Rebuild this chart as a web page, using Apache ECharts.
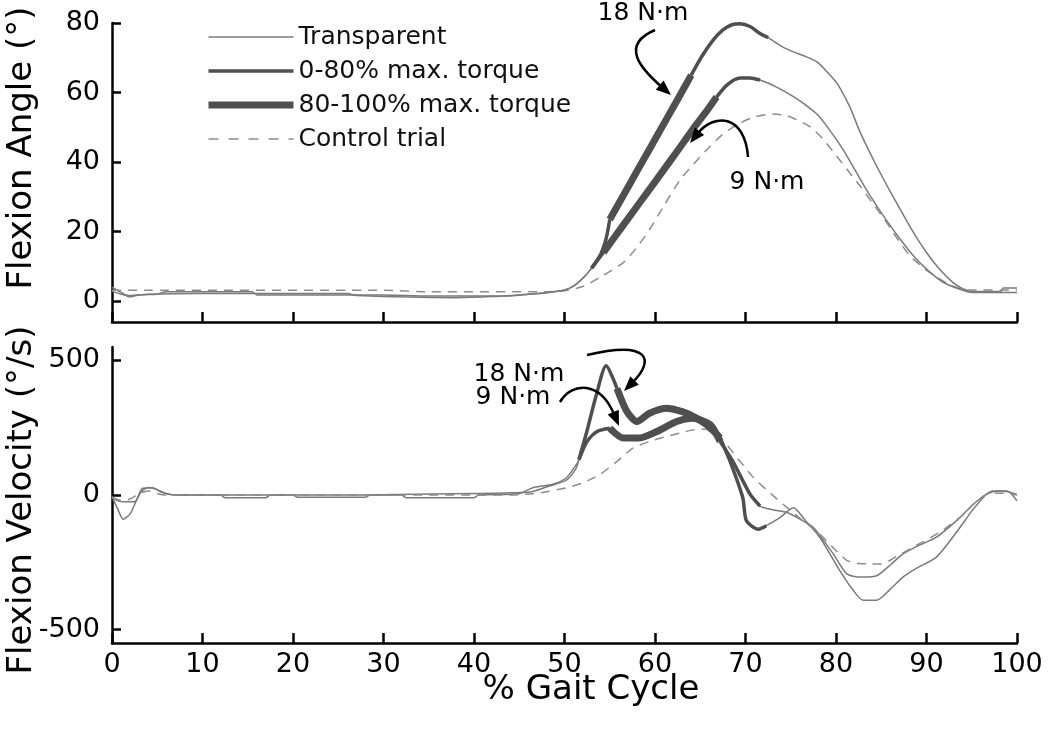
<!DOCTYPE html>
<html><head><meta charset="utf-8">
<script src="https://cdn.jsdelivr.net/npm/echarts@6/dist/echarts.min.js"></script>
<style>html,body{margin:0;padding:0;background:#fff}#c{width:1050px;height:738px}</style>
</head><body><div id="c"></div><script>
// ---------- data (x = % gait cycle) ----------
const angle18 = [[0,4.0],[1,2.5],[2,1.2],[3,1.8],[5,2.0],[6,2.7],[15.5,2.7],[16,1.8],[30,1.8],[35,1.5],[44,1.5],[46,2.0],[48,2.4],[50,3.2],[51,4.3],[52,6.5],[53,9.5],[54,13.5],[54.6,18],[55,23.5],[56,28.1],[57,32.7],[58.3,38.7],[59.5,44.2],[61.3,52.5],[62.5,58],[64,65],[65.2,70.5],[66.4,75],[67.5,78],[68.5,79.5],[69.4,79.8],[70.5,79],[71.6,77],[72.5,75.8],[74,73.3],[75.3,71.7],[76.5,70.5],[77.9,68.8],[79,66],[80.1,62.7],[81.5,56],[82.7,48.4],[84.5,38.8],[86,31.5],[87.1,26.4],[88.5,20],[90,14],[91.5,9],[92.9,5.4],[94,3.6],[95.2,2.8],[98.2,2.8],[98.5,3.8],[100,3.8]];
const angle9 = [[0,2.8],[1,2.0],[2,1.6],[4,2.0],[10,2.2],[26,2.2],[27,1.6],[38,1.0],[42,1.3],[46,2.0],[48,2.4],[50,3.2],[51,4.3],[52,6.5],[53,9.5],[54.3,14],[55.5,18.3],[56.9,23.3],[58.3,28.3],[60,34.3],[62,41.5],[63.3,46.2],[64.6,50.9],[65.8,55],[66.8,58.7],[68,62.3],[69.4,64.2],[70.5,64.2],[71.6,63.6],[73.5,61.5],[75.3,58.8],[76.6,56.5],[77.9,53.8],[79.3,49.2],[80.8,43.5],[82.3,36.8],[83.8,30.2],[85.5,23.5],[87.1,17.8],[88.5,13.2],[90,9.2],[91.8,5.5],[93.7,3.4],[95,2.5],[100,2.5]];
const angleControl = [[0,3.1],[30,3.1],[35,2.7],[48,2.7],[50,3.0],[52.1,4.3],[54,7],[56.5,11.1],[58,15.5],[59.4,20.6],[61,27.5],[62.8,35],[64.3,39.5],[65.7,43.5],[67.5,48],[69.4,51.2],[71,53],[73,53.8],[74.5,53.4],[75.8,52],[77.1,50.2],[78.6,46.5],[80.1,41.6],[81.4,37.3],[82.7,33],[84.2,27.6],[85.6,22.6],[86.9,17.5],[88.2,13],[89.8,9.3],[91.5,6.3],[93,4.2],[94.5,3.2],[100,3.2]];
const vel18 = [[0,-5],[0.6,-50],[1.25,-90],[2,-70],[2.7,-20],[3.4,25],[4.5,27],[5.5,10],[7,0],[12,0],[12.5,-10],[17,-10],[17.5,0],[32,0],[32.5,-10],[40,-10],[40.5,0],[45,5],[46.5,27],[48.7,40],[50.2,64],[51.3,113],[51.6,132],[52.5,240],[53.5,370],[54.6,480],[55.8,396],[56.9,310],[58,273],[59.4,304],[61.3,322],[63.5,304],[65.7,261],[67.2,212],[68.3,125],[69.7,-10],[70.1,-96],[71.4,-127],[72.3,-114],[73.8,-84],[75.3,-47],[76.5,-90],[78.2,-157],[80.4,-280],[81.9,-354],[83,-391],[84.5,-391],[86,-350],[87.4,-305],[89,-270],[91.1,-231],[93.7,-121],[95,-60],[96.6,2],[97.4,15],[98.9,15],[100,-22]];
const vel9 = [[0,-5],[0.5,-20],[1.25,-25],[2.5,-25],[3.2,10],[4,28],[5,20],[6,5],[7,0],[20,0],[20.5,-8],[28,-8],[28.5,0],[46,10],[48,30],[50.2,55],[51.3,100],[51.6,132],[52.5,200],[53.6,236],[55,248],[56.5,212],[58.3,212],[60.2,236],[62.4,273],[64.2,285],[66.1,261],[67.2,199],[68.6,125],[70.5,3],[71.6,-41],[73,-55],[74.6,-65],[76,-90],[77.5,-121],[79.7,-219],[81.2,-293],[83,-305],[84.5,-300],[86,-260],[87.4,-219],[89,-190],[91.1,-157],[93.7,-84],[95,-40],[96.6,2],[98,15],[99,12],[100,2]];
const velControl = [[0,-10],[1,-20],[2,-15],[3,5],[4,15],[5,5],[6,0],[44,0],[46.5,5],[48,12],[50.2,27],[52,45],[53.9,76],[55.8,125],[57.6,175],[59.5,200],[61.3,218],[63,232],[64.2,242],[65.5,245],[66.5,225],[67.9,187],[69.4,125],[70.9,64],[72.8,5],[74.6,-47],[76.4,-97],[78.2,-145],[79.8,-200],[81.2,-243],[82.5,-255],[83.8,-256],[85,-256],[86.7,-228],[88.5,-194],[90.4,-160],[92.2,-121],[93.8,-80],[95.2,-34],[97.1,8],[99,5],[100,0]];

// torque phases (x ranges): [medium start, thick start, thick end, medium end]
const phaseAngle18 = [53, 55, 64, 72.5];
const phaseAngle9 = [53, 54.3, 66.8, 71.6];
const phaseVel18 = [51.6, 55.8, 67.2, 72.3];
const phaseVel9 = [51.6, 55, 67.2, 71.6];

const legendNames = ['Transparent', '0-80% max. torque', '80-100% max. torque', 'Control trial'];
const angleTicks = [0, 20, 40, 60, 80];
const velTicks = [-500, 0, 500];
const xTitle = '% Gait Cycle';
const yTitleTop = 'Flexion Angle (°)';
const yTitleBottom = 'Flexion Velocity (°/s)';

// annotations: [grid, label, textPos, start, ctrl1, ctrl2, tip]  (data units)
const annotations = [
  [0, '18 N·m', [58.67, 82.6], [60.0, 77.98], [56.13, 73.7], [58.34, 67.05], [61.77, 59.3]],
  [0, '9 N·m', [72.38, 34.0], [70.28, 41.45], [69.94, 53.5], [66.63, 54.4], [63.87, 45.5]],
  [1, '18 N·m', [44.97, 449.6], [52.49, 520], [59.45, 576], [60.0, 501.7], [56.57, 386.5]],
  [1, '9 N·m', [44.31, 360.5], [49.5, 345.6], [50.83, 420], [53.92, 427], [56.02, 256.4]]
];

// ---------- chart ----------
const FONT = 'DejaVu Sans';
const THIN = '#7a7a7a', DARK = '#4f4f4f', CTRL = '#8c8c8c';
const W_THIN = 1.5, W_MED = 3.5, W_THICK = 7, DASH = [9, 7];
const seg = (c, a, b) => c.filter(p => p[0] >= a && p[0] <= b);

function line(name, data, grid, width, color, dashed) {
  return {
    type: 'line', name, data, xAxisIndex: grid, yAxisIndex: grid,
    symbol: 'none', smooth: 0.25, animation: false, silent: true,
    lineStyle: { width, color, type: dashed ? DASH : 'solid', cap: 'butt', join: 'round' },
    itemStyle: { color }, z: width > 5 ? 4 : (width > 2 ? 5 : 3)
  };
}
function torqueSeries(curve, ph, grid) {
  return [
    line(legendNames[1], seg(curve, ph[0], ph[1]), grid, W_MED, DARK),
    line(legendNames[2], seg(curve, ph[1], ph[2]), grid, W_THICK, DARK),
    line(legendNames[1], seg(curve, ph[2], ph[3]), grid, W_MED, DARK)
  ];
}

const series = [
  line(legendNames[0], angle18, 0, W_THIN, THIN),
  ...torqueSeries(angle18, phaseAngle18, 0),
  line(legendNames[3], angleControl, 0, W_THIN, CTRL, true),
  line(legendNames[0], angle9, 0, W_THIN, THIN),
  ...torqueSeries(angle9, phaseAngle9, 0),
  line(legendNames[0], vel18, 1, W_THIN, THIN),
  line(legendNames[0], vel9, 1, W_THIN, THIN),
  ...torqueSeries(vel18, phaseVel18, 1),
  ...torqueSeries(vel9, phaseVel9, 1),
  line(legendNames[3], velControl, 1, W_THIN, CTRL, true)
];

const axisLine = { show: true, onZero: false, lineStyle: { color: '#000', width: 2.5 } };
function xAx(grid, labels) {
  return {
    type: 'value', gridIndex: grid, min: 0, max: 100, interval: 10,
    axisLine, splitLine: { show: false },
    axisTick: { show: true, inside: true, length: 10, lineStyle: { color: '#000', width: 2.5 } },
    axisLabel: { show: labels, fontFamily: FONT, fontSize: 27, color: '#000', margin: 8 }
  };
}
function yAx(grid, min, max, ticks) {
  return {
    type: 'value', gridIndex: grid, min, max,
    axisLine, splitLine: { show: false },
    axisTick: { show: true, inside: true, length: 9, customValues: ticks, lineStyle: { color: '#000', width: 2.5 } },
    axisLabel: { show: true, customValues: ticks, fontFamily: FONT, fontSize: 27, color: '#000', margin: 12 }
  };
}

const legendStyle = [
  { width: W_THIN, color: THIN, type: 'solid' },
  { width: W_MED, color: DARK, type: 'solid' },
  { width: W_THICK, color: DARK, type: 'solid' },
  { width: W_THIN, color: CTRL, type: [10, 10] }
];

const chart = echarts.init(document.getElementById('c'), null, { renderer: 'canvas' });
chart.setOption({
  backgroundColor: '#fff',
  animation: false,
  grid: [
    { left: 112, right: 33, top: 23, height: 299 },
    { left: 112, right: 33, top: 347, height: 296 }
  ],
  xAxis: [xAx(0, false), xAx(1, true)],
  yAxis: [yAx(0, -6, 80, angleTicks), yAx(1, -550, 550, velTicks)],
  legend: {
    data: legendNames.map((n, i) => ({ name: n, itemStyle: { opacity: 0 }, lineStyle: legendStyle[i] })),
    orient: 'vertical', left: 200, top: 19,
    itemWidth: 85, itemHeight: 14, itemGap: 8, selectedMode: false,
    textStyle: { fontFamily: FONT, fontSize: 25, color: '#111', lineHeight: 26 }
  },
  series
});

// annotations & titles
const g = [];
const txt = (x, y, text, size, rot) => ({
  type: 'text', x, y, rotation: rot || 0, silent: true, z: 10,
  style: { text, fontFamily: FONT, fontSize: size, fill: '#000', align: 'center', verticalAlign: 'middle' }
});
g.push(txt(591, 690, xTitle, 34));
g.push(txt(22, 148, yTitleTop, 34, Math.PI / 2));
g.push(txt(22, 500, yTitleBottom, 34, Math.PI / 2));
annotations.forEach(a => {
  const P = d => chart.convertToPixel({ gridIndex: a[0] }, d);
  const t = P(a[2]), s = P(a[3]), c1 = P(a[4]), c2 = P(a[5]), e = P(a[6]);
  g.push(txt(t[0], t[1], a[1], 25));
  const dx = e[0] - c2[0], dy = e[1] - c2[1], L = Math.hypot(dx, dy);
  const ux = dx / L, uy = dy / L, hl = 15, hw = 6;
  const bx = e[0] - ux * hl, by = e[1] - uy * hl;
  g.push({
    type: 'bezierCurve', silent: true, z: 10,
    shape: { x1: s[0], y1: s[1], cpx1: c1[0], cpy1: c1[1], cpx2: c2[0], cpy2: c2[1], x2: bx + ux * 3, y2: by + uy * 3 },
    style: { stroke: '#000', lineWidth: 2.5, fill: null }
  });
  g.push({
    type: 'polygon', silent: true, z: 10,
    shape: { points: [[e[0], e[1]], [bx - uy * hw, by + ux * hw], [bx + uy * hw, by - ux * hw]] },
    style: { fill: '#000' }
  });
});
chart.setOption({ graphic: g });
</script></body></html>
